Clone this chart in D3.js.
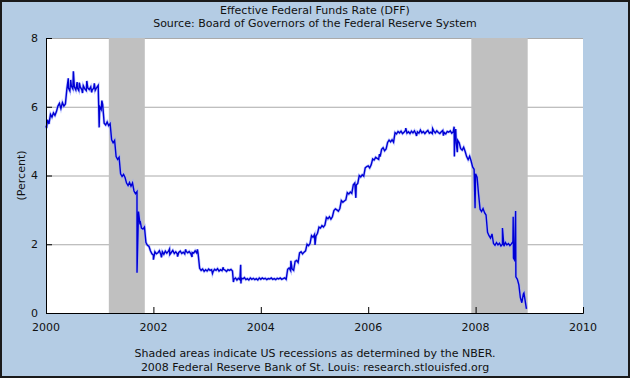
<!DOCTYPE html>
<html>
<head>
<meta charset="utf-8">
<script src="https://cdn.jsdelivr.net/npm/d3@7"></script>
<style>
  body { margin: 0; background: #b4cce4; }
  text { font-family: "DejaVu Sans", sans-serif; fill: #111; }
</style>
</head>
<body>
<div id="chart"></div>
<script>
// effective fed funds rate, read roughly 3 times a month (1st, 11th, 21st)
let rate2000 = [5.45, 5.62, 5.50, 5.78, 5.70, 5.82, 5.75, 5.86, 6.02, 6.10, 5.95, 6.12,
  6.02, 6.08, 6.52, 6.55, 6.46, 6.60, 6.52, 6.58, 6.49, 6.55, 6.47, 6.57,
  6.50, 6.61, 6.52, 6.47, 6.55, 6.50, 6.58, 6.49, 6.54, 6.48, 6.56, 6.62]
let rate2001 = [6.00, 5.92, 6.06, 5.52, 5.47, 5.56, 5.45, 5.51, 5.04, 4.95, 5.02, 4.55,
  4.47, 4.53, 4.05, 3.97, 4.03, 3.94, 3.78, 3.71, 3.80, 3.69, 3.78, 3.55,
  3.47, 3.53, 2.95, 2.58, 2.47, 2.44, 2.50, 2.05, 1.97, 1.94, 1.81, 1.72]
let rate2002 = [1.68, 1.78, 1.72, 1.75, 1.81, 1.70, 1.78, 1.71, 1.80, 1.74, 1.79, 1.70,
  1.76, 1.82, 1.73, 1.78, 1.72, 1.76, 1.80, 1.73, 1.77, 1.72, 1.79, 1.75,
  1.79, 1.73, 1.76, 1.74, 1.81, 1.75, 1.72, 1.30, 1.24, 1.28, 1.21, 1.26]
let rate2003 = [1.22, 1.28, 1.24, 1.26, 1.20, 1.27, 1.24, 1.29, 1.22, 1.26, 1.23, 1.27,
  1.25, 1.21, 1.26, 1.24, 1.27, 1.22, 0.98, 1.02, 0.96, 1.01, 0.97, 1.02,
  0.99, 1.03, 0.97, 1.00, 0.96, 1.02, 0.98, 1.01, 0.97, 1.00, 0.96, 1.02]
let rate2004 = [0.98, 1.02, 0.99, 1.01, 0.97, 1.00, 0.99, 1.02, 0.98, 1.00, 0.97, 1.01,
  0.99, 1.02, 0.98, 1.00, 1.02, 0.98, 1.27, 1.31, 1.23, 1.28, 1.24, 1.50,
  1.53, 1.47, 1.75, 1.78, 1.72, 1.77, 1.81, 2.00, 1.96, 2.02, 2.25, 2.20]
let rate2005 = [2.28, 2.24, 2.32, 2.50, 2.47, 2.54, 2.50, 2.56, 2.78, 2.74, 2.80, 2.73,
  2.80, 2.98, 3.03, 3.00, 2.96, 3.04, 3.27, 3.22, 3.26, 3.29, 3.50, 3.46,
  3.52, 3.48, 3.73, 3.78, 3.72, 3.77, 4.00, 3.96, 4.02, 3.98, 4.22, 4.26]
let rate2006 = [4.28, 4.22, 4.31, 4.48, 4.45, 4.53, 4.50, 4.47, 4.55, 4.76, 4.81, 4.72,
  4.77, 4.96, 5.03, 4.98, 5.04, 4.97, 5.25, 5.21, 5.28, 5.24, 5.29, 5.22,
  5.26, 5.31, 5.23, 5.27, 5.22, 5.29, 5.24, 5.30, 5.21, 5.27, 5.23, 5.32]
let rate2007 = [5.24, 5.28, 5.22, 5.27, 5.31, 5.23, 5.26, 5.22, 5.29, 5.24, 5.30, 5.25,
  5.22, 5.27, 5.31, 5.25, 5.21, 5.28, 5.26, 5.30, 5.23, 5.27, 5.05, 4.95,
  5.02, 4.95, 4.78, 4.74, 4.82, 4.70, 4.55, 4.46, 4.56, 4.42, 4.25, 4.18]
let rate2008 = [4.05, 3.95, 3.45, 3.02, 2.95, 3.04, 2.92, 2.85, 2.35, 2.25, 2.18, 2.30,
  2.02, 1.97, 2.05, 1.98, 2.03, 1.95, 2.00, 1.94, 2.05, 1.98, 2.02, 1.96,
  2.01, 2.08, 1.55, 1.10, 0.98, 0.82, 0.45, 0.30, 0.55, 0.42, 0.14]

// single-day spikes [year, rate]
let spikes = [[2000.01, 5.38], [2000.415, 6.83], [2000.46, 6.78], [2000.51, 7.03], [2000.58, 6.72],
  [2000.62, 6.70], [2000.68, 6.40], [2000.76, 6.75], [2000.85, 6.42], [2000.90, 6.68],
  [2000.99, 5.40], [2001.04, 6.18], [2001.695, 1.17], [2001.76, 2.62],
  [2002.0, 1.55], [2002.15, 1.62], [2002.30, 1.86], [2002.45, 1.64], [2002.60, 1.85],
  [2002.72, 1.63], [2002.82, 1.85], [2003.10, 1.15], [2003.30, 1.33],
  [2003.49, 0.90], [2003.625, 1.40], [2003.63, 0.86],
  [2004.56, 1.52], [2005.01, 1.98], [2005.77, 3.35], [2006.21, 4.62],
  [2006.70, 5.38], [2006.90, 5.15], [2007.20, 5.36], [2007.40, 5.16], [2007.60, 5.42],
  [2007.605, 4.55], [2007.63, 5.35], [2007.66, 4.68], [2007.99, 3.05], [2008.50, 2.47],
  [2008.70, 2.80], [2008.705, 1.60], [2008.745, 2.97], [2008.75, 1.05], [2008.90, 0.58],
  [2008.95, 0.12]]

let years = [2000, 2001, 2002, 2003, 2004, 2005, 2006, 2007, 2008]
let yearly = [rate2000, rate2001, rate2002, rate2003, rate2004, rate2005, rate2006, rate2007, rate2008]

let recessions = [[2001.17, 2001.84], [2007.92, 2008.97]]
let xTicks = [2000, 2002, 2004, 2006, 2008, 2010]
let yTicks = [0, 2, 4, 6, 8]
let gridTicks = [2, 4, 6, 8]

let titleLines = ['Effective Federal Funds Rate (DFF)', 'Source: Board of Governors of the Federal Reserve System']
let footLines = ['Shaded areas indicate US recessions as determined by the NBER.',
  '2008 Federal Reserve Bank of St. Louis: research.stlouisfed.org']

let width = 630,
  height = 378,
  plot = {left: 46, right: 583, top: 38, bottom: 313}

let series = []
years.forEach(function (yr, k) {
  yearly[k].forEach(function (v, i) {
    series.push([yr + i / 36, v])
  })
})
series = series.concat(spikes).sort(function (a, b) { return a[0] - b[0] })

let x = d3.scaleLinear()
  .domain([2000, 2010])
  .range([plot.left, plot.right])

let y = d3.scaleLinear()
  .domain([0, 8])
  .range([plot.bottom, plot.top])

let svg = d3.select('#chart').append('svg')
  .attr('width', width)
  .attr('height', height)

svg.append('rect')
  .attr('x', 1).attr('y', 1)
  .attr('width', width - 2).attr('height', height - 2)
  .attr('fill', '#b4cce4')
  .attr('stroke', '#1a1a1a')
  .attr('stroke-width', 2)

svg.append('rect')
  .attr('x', plot.left).attr('y', plot.top)
  .attr('width', plot.right - plot.left).attr('height', plot.bottom - plot.top)
  .attr('fill', '#fff')

// grid lines
svg.append('g').selectAll('line')
  .data(gridTicks)
  .enter().append('line')
  .attr('x1', plot.left).attr('x2', plot.right)
  .attr('y1', function (d) { return y(d) + 0.5 })
  .attr('y2', function (d) { return y(d) + 0.5 })
  .attr('stroke', '#aaaaaa')

// recession shading
svg.append('g').selectAll('rect')
  .data(recessions)
  .enter().append('rect')
  .attr('x', function (d) { return x(d[0]) })
  .attr('width', function (d) { return x(d[1]) - x(d[0]) })
  .attr('y', plot.top)
  .attr('height', plot.bottom - plot.top)
  .attr('fill', '#c0c0c0')

let line = d3.line()
  .x(function (d) { return x(d[0]) })
  .y(function (d) { return y(d[1]) })

svg.append('path')
  .datum(series)
  .attr('d', line)
  .attr('fill', 'none')
  .attr('stroke', '#9aa6ff')
  .attr('stroke-width', 2.8)
  .attr('stroke-opacity', 0.6)

svg.append('path')
  .datum(series)
  .attr('d', line)
  .attr('fill', 'none')
  .attr('stroke', '#0000d4')
  .attr('stroke-width', 1.4)

// axes
svg.append('g')
  .attr('transform', 'translate(' + plot.left + ',0)')
  .call(d3.axisRight(y).tickValues(yTicks).tickSize(6).tickFormat(''))
  .call(function (g) { g.select('.domain').attr('stroke', '#000') })

svg.append('g')
  .attr('transform', 'translate(0,' + plot.bottom + ')')
  .call(d3.axisTop(x).tickValues(xTicks).tickSize(6).tickFormat(''))
  .call(function (g) { g.select('.domain').attr('stroke', '#000') })

svg.append('g').selectAll('text')
  .data(yTicks)
  .enter().append('text')
  .attr('x', plot.left - 8)
  .attr('y', function (d) { return y(d) })
  .attr('dy', '0.36em')
  .attr('text-anchor', 'end')
  .attr('font-size', 11)
  .text(function (d) { return d })

svg.append('g').selectAll('text')
  .data(xTicks)
  .enter().append('text')
  .attr('x', function (d) { return x(d) })
  .attr('y', plot.bottom + 18)
  .attr('text-anchor', 'middle')
  .attr('font-size', 11)
  .text(function (d) { return d })

svg.append('text')
  .attr('transform', 'translate(25,' + (plot.top + plot.bottom) / 2 + ') rotate(-90)')
  .attr('text-anchor', 'middle')
  .attr('font-size', 11)
  .text('(Percent)')

svg.append('g').selectAll('text')
  .data(titleLines)
  .enter().append('text')
  .attr('x', width / 2)
  .attr('y', function (d, i) { return 14 + i * 13 })
  .attr('text-anchor', 'middle')
  .attr('font-size', 11)
  .text(function (d) { return d })

svg.append('g').selectAll('text')
  .data(footLines)
  .enter().append('text')
  .attr('x', width / 2)
  .attr('y', function (d, i) { return 357 + i * 14 })
  .attr('text-anchor', 'middle')
  .attr('font-size', 11)
  .text(function (d) { return d })
</script>
</body>
</html>
